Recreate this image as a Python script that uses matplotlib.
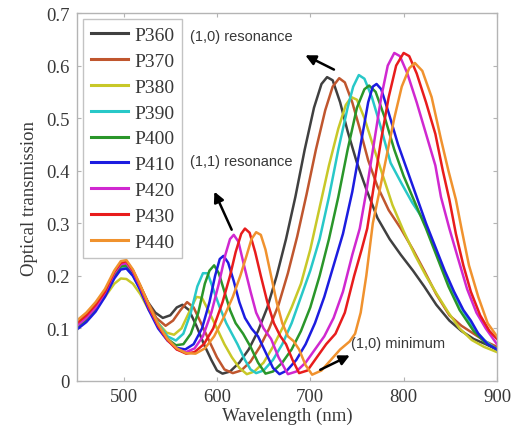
import matplotlib
matplotlib.use("Agg")
import matplotlib.pyplot as plt

labels = ["P360", "P370", "P380", "P390", "P400", "P410", "P420", "P430", "P440"]
colors = ["#404040", "#c0562e", "#c8c828", "#28c8c8", "#2a962a", "#1c1ce0", "#d028d0", "#e81c1c", "#f0922e"]

wl_p360 = [450, 460, 470, 480, 490, 497, 503, 510, 518, 526, 534, 542, 550, 557, 563, 570, 578, 586, 594, 600, 606, 614, 624, 634, 644, 654, 664, 674, 684, 694, 704, 712, 718, 724, 732, 740, 750, 760, 772, 785, 797, 810, 822, 835, 849, 862, 875, 888, 900]
t_p360 = [0.105, 0.12, 0.14, 0.165, 0.2, 0.218, 0.22, 0.205, 0.18, 0.15, 0.13, 0.12, 0.125, 0.14, 0.145, 0.135, 0.105, 0.07, 0.04, 0.02, 0.014, 0.018, 0.035, 0.06, 0.095, 0.14, 0.2, 0.27, 0.35, 0.44, 0.52, 0.565, 0.578, 0.572, 0.53, 0.475, 0.415, 0.365, 0.31, 0.27, 0.24, 0.21, 0.18, 0.145, 0.115, 0.095, 0.08, 0.07, 0.06]

wl_p370 = [450, 460, 470, 480, 490, 497, 503, 510, 518, 526, 535, 545, 553, 561, 568, 575, 583, 592, 600, 608, 617, 626, 636, 646, 656, 666, 676, 686, 696, 706, 716, 724, 731, 737, 745, 753, 762, 772, 784, 797, 810, 822, 835, 849, 862, 875, 888, 900]
t_p370 = [0.11, 0.125, 0.145, 0.17, 0.205, 0.222, 0.224, 0.21, 0.18, 0.15, 0.12, 0.105, 0.115, 0.135, 0.15, 0.14, 0.11, 0.075, 0.045, 0.022, 0.015, 0.02, 0.037, 0.065, 0.1, 0.145, 0.205, 0.275, 0.355, 0.44, 0.515, 0.56, 0.576, 0.568, 0.53, 0.48, 0.42, 0.37, 0.325, 0.29, 0.25, 0.21, 0.165, 0.125, 0.105, 0.09, 0.075, 0.065]

wl_p380 = [450, 460, 470, 480, 490, 497, 503, 510, 518, 527, 537, 546, 554, 562, 570, 578, 584, 592, 600, 608, 616, 624, 632, 640, 650, 660, 670, 680, 690, 700, 710, 720, 730, 738, 744, 750, 758, 766, 776, 788, 800, 812, 824, 835, 848, 860, 873, 886, 900]
t_p380 = [0.11, 0.12, 0.14, 0.16, 0.185, 0.195, 0.194, 0.185, 0.165, 0.135, 0.11, 0.092, 0.088, 0.1, 0.13, 0.16, 0.158, 0.13, 0.1, 0.07, 0.045, 0.025, 0.013, 0.018, 0.035, 0.065, 0.1, 0.14, 0.185, 0.25, 0.33, 0.41, 0.48, 0.525, 0.54, 0.535, 0.5, 0.455, 0.4, 0.335, 0.285, 0.24, 0.2, 0.167, 0.13, 0.1, 0.078, 0.065, 0.055]

wl_p390 = [450, 460, 470, 480, 490, 497, 503, 510, 518, 527, 537, 547, 556, 564, 572, 579, 585, 590, 596, 603, 610, 616, 622, 630, 636, 642, 650, 660, 670, 680, 690, 700, 710, 720, 730, 740, 746, 752, 758, 766, 776, 786, 798, 809, 820, 832, 845, 860, 875, 888, 900]
t_p390 = [0.105, 0.12, 0.14, 0.165, 0.2, 0.214, 0.215, 0.2, 0.175, 0.14, 0.11, 0.085, 0.077, 0.09, 0.13, 0.18, 0.205, 0.205, 0.175, 0.14, 0.11, 0.09, 0.07, 0.04, 0.022, 0.015, 0.02, 0.04, 0.07, 0.11, 0.16, 0.21, 0.27, 0.35, 0.44, 0.52, 0.56, 0.582, 0.575, 0.54, 0.48, 0.415, 0.375, 0.34, 0.31, 0.26, 0.2, 0.145, 0.1, 0.075, 0.06]

wl_p400 = [450, 460, 470, 480, 490, 497, 503, 510, 518, 527, 537, 547, 556, 564, 572, 580, 587, 592, 597, 602, 608, 614, 620, 628, 636, 644, 652, 660, 670, 680, 690, 700, 710, 720, 730, 740, 750, 758, 763, 770, 780, 790, 800, 812, 824, 836, 848, 860, 875, 888, 900]
t_p400 = [0.1, 0.115, 0.135, 0.165, 0.2, 0.218, 0.22, 0.205, 0.175, 0.14, 0.105, 0.08, 0.068, 0.07, 0.09, 0.13, 0.185, 0.21, 0.22, 0.205, 0.17, 0.135, 0.11, 0.09, 0.065, 0.035, 0.014, 0.018, 0.035, 0.06, 0.095, 0.14, 0.2, 0.27, 0.35, 0.44, 0.52, 0.555, 0.562, 0.55, 0.5, 0.44, 0.39, 0.34, 0.29, 0.235, 0.18, 0.135, 0.095, 0.072, 0.06]

wl_p410 = [450, 460, 470, 480, 490, 497, 503, 510, 518, 527, 537, 547, 557, 566, 575, 584, 592, 598, 603, 607, 612, 618, 624, 630, 637, 644, 652, 660, 667, 675, 685, 695, 705, 715, 725, 735, 745, 755, 762, 767, 771, 776, 784, 794, 804, 814, 824, 834, 844, 854, 864, 872, 880, 890, 900]
t_p410 = [0.098, 0.112, 0.132, 0.16, 0.195, 0.212, 0.214, 0.2, 0.172, 0.135, 0.1, 0.077, 0.063, 0.06, 0.07, 0.1, 0.15, 0.2, 0.232, 0.238, 0.225, 0.19, 0.15, 0.12, 0.1, 0.085, 0.055, 0.025, 0.013, 0.02, 0.04, 0.07, 0.11, 0.16, 0.22, 0.28, 0.36, 0.46, 0.53, 0.56, 0.565, 0.555, 0.51, 0.45, 0.4, 0.35, 0.3, 0.255, 0.21, 0.17, 0.135, 0.115, 0.09, 0.07, 0.06]

wl_p420 = [450, 460, 470, 480, 490, 497, 503, 510, 518, 527, 537, 547, 557, 567, 576, 585, 594, 602, 609, 614, 618, 623, 629, 636, 642, 650, 658, 666, 676, 685, 695, 705, 715, 725, 735, 745, 753, 760, 768, 776, 783, 790, 796, 804, 814, 824, 834, 840, 849, 858, 868, 878, 888, 900]
t_p420 = [0.105, 0.12, 0.14, 0.168, 0.205, 0.222, 0.224, 0.208, 0.178, 0.14, 0.105, 0.078, 0.06, 0.055, 0.062, 0.085, 0.13, 0.185, 0.24, 0.27, 0.278, 0.265, 0.22, 0.17, 0.13, 0.1, 0.08, 0.045, 0.013, 0.018, 0.035, 0.06, 0.085, 0.12, 0.17, 0.24, 0.29, 0.36, 0.45, 0.54, 0.6, 0.624, 0.618, 0.585, 0.53, 0.47, 0.41, 0.35, 0.29, 0.235, 0.175, 0.13, 0.1, 0.07]

wl_p430 = [450, 460, 470, 480, 490, 497, 503, 510, 518, 527, 537, 547, 557, 567, 576, 586, 596, 606, 614, 620, 626, 630, 635, 641, 647, 654, 661, 668, 674, 681, 688, 697, 707, 717, 727, 737, 747, 755, 761, 768, 776, 784, 792, 800, 806, 814, 824, 834, 842, 849, 856, 864, 872, 882, 892, 900]
t_p430 = [0.11, 0.125, 0.145, 0.17, 0.208, 0.225, 0.228, 0.21, 0.18, 0.142, 0.105, 0.078, 0.06, 0.052, 0.055, 0.07, 0.1, 0.15, 0.2, 0.245, 0.28, 0.29, 0.282, 0.245, 0.2, 0.15, 0.11, 0.085, 0.07, 0.04, 0.015, 0.02, 0.045, 0.07, 0.09, 0.13, 0.2, 0.25, 0.29, 0.37, 0.46, 0.54, 0.6, 0.624, 0.618, 0.585, 0.53, 0.47, 0.4, 0.345, 0.28, 0.22, 0.17, 0.125, 0.095, 0.08]

wl_p440 = [450, 460, 470, 480, 490, 497, 503, 510, 518, 527, 537, 547, 557, 567, 577, 587, 597, 607, 617, 625, 632, 637, 642, 647, 652, 658, 664, 670, 676, 682, 688, 695, 702, 712, 722, 732, 742, 748, 754, 760, 767, 774, 782, 790, 798, 806, 812, 820, 830, 840, 848, 856, 862, 870, 880, 890, 900]
t_p440 = [0.115, 0.13, 0.15, 0.175, 0.21, 0.228, 0.23, 0.212, 0.182, 0.145, 0.108, 0.08, 0.062, 0.053, 0.052, 0.062, 0.085, 0.12, 0.16, 0.2, 0.24, 0.27, 0.283, 0.278, 0.25, 0.2, 0.15, 0.11, 0.085, 0.076, 0.06, 0.03, 0.012, 0.02, 0.04, 0.06, 0.075, 0.09, 0.13, 0.2, 0.3, 0.36, 0.43, 0.5, 0.56, 0.595, 0.605, 0.59, 0.54, 0.46, 0.4, 0.345, 0.29, 0.22, 0.16, 0.11, 0.085]

series_wl = [wl_p360, wl_p370, wl_p380, wl_p390, wl_p400, wl_p410, wl_p420, wl_p430, wl_p440]
series_t = [t_p360, t_p370, t_p380, t_p390, t_p400, t_p410, t_p420, t_p430, t_p440]

x_ticks = [500, 600, 700, 800, 900]
y_ticks = [0, 0.1, 0.2, 0.3, 0.4, 0.5, 0.6, 0.7]
y_ticklabels = ["0", "0.1", "0.2", "0.3", "0.4", "0.5", "0.6", "0.7"]

serif = ["Liberation Serif", "DejaVu Serif"]
sans = ["Liberation Sans", "DejaVu Sans"]
textc = "#383838"

fig = plt.figure(figsize=(5.27, 4.31), dpi=100)
ax = fig.add_axes([0.146, 0.1137, 0.797, 0.8538])

for wl, t, c, lab in zip(series_wl, series_t, colors, labels):
    ax.plot(wl, t, color=c, lw=1.8, label=lab, solid_joinstyle="round")

ax.set_xlim(450, 900)
ax.set_ylim(0, 0.7)
ax.set_xticks(x_ticks)
ax.set_yticks(y_ticks)
ax.set_yticklabels(y_ticklabels)
for s in ax.spines.values():
    s.set_color("#b4b4b4")
    s.set_linewidth(1.0)
ax.tick_params(direction="in", length=3, width=0.8, color="#b4b4b4",
               top=True, right=True, labelsize=13.5, labelcolor=textc, pad=5)
for lbl in ax.get_xticklabels() + ax.get_yticklabels():
    lbl.set_family(serif)

ax.set_xlabel("Wavelength (nm)", family=serif, fontsize=13.5, color=textc, labelpad=1)
ax.set_ylabel("Optical transmission", family=serif, fontsize=13.5, color=textc, labelpad=6)

leg = ax.legend(loc="upper left", bbox_to_anchor=(0.014, 0.984), borderaxespad=0,
                prop={"family": serif, "size": 14},
                handlelength=1.9, handletextpad=0.35, labelspacing=0.42, borderpad=0.4,
                frameon=True, fancybox=False)
leg.get_frame().set_edgecolor("#b4b4b4")
leg.get_frame().set_linewidth(1.0)
for txt in leg.get_texts():
    txt.set_color(textc)
for h in leg.get_lines():
    h.set_linewidth(2.2)

ax.text(571, 0.656, "(1,0) resonance", family=sans, fontsize=10.5, color=textc, va="center", ha="left")
ax.text(571, 0.418, "(1,1) resonance", family=sans, fontsize=10.5, color=textc, va="center", ha="left")
ax.text(744, 0.072, "(1,0) minimum", family=sans, fontsize=10.5, color=textc, va="center", ha="left")

arrow_kw = dict(arrowstyle="-|>,head_length=0.6,head_width=0.3", color="black", lw=1.8)
ax.annotate("", xy=(692, 0.622), xytext=(728, 0.59), arrowprops=arrow_kw)
ax.annotate("", xy=(596, 0.365), xytext=(617, 0.283), arrowprops=arrow_kw)
ax.annotate("", xy=(745, 0.051), xytext=(708, 0.019), arrowprops=arrow_kw)

fig.savefig("out.png", dpi=100)
